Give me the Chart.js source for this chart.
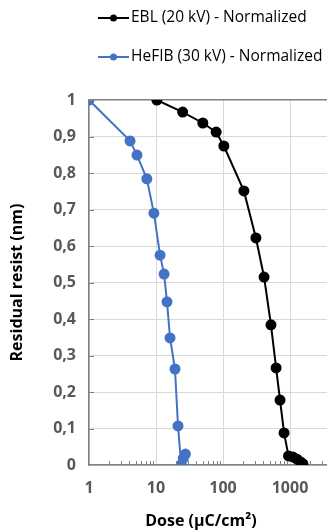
<!DOCTYPE html>
<html>
<head>
<meta charset="utf-8">
<script src="https://cdn.jsdelivr.net/npm/chart.js@4.4.1/dist/chart.umd.min.js"></script>
<style>
  html, body { margin: 0; padding: 0; background: #fff; overflow: hidden; }
  #wrap { width: 402px; height: 531px; }
  canvas { display: block; }
</style>
</head>
<body>
<div id="wrap"><canvas id="doseChart" width="402" height="531"></canvas></div>
<script>
// values
const eblDose = [10.3, 25, 50, 79, 103, 205, 310, 410, 520, 620, 710, 815, 950, 1100, 1270, 1450, 1560];
const eblResist = [1, 0.967, 0.937, 0.912, 0.874, 0.751, 0.622, 0.515, 0.384, 0.266, 0.178, 0.088, 0.025, 0.022, 0.016, 0.008, 0.003];
const hefibDose = [1, 4.1, 5.2, 7.3, 9.3, 11.5, 13.2, 14.6, 16.2, 19.2, 21.3, 23.8, 25.5, 27.5];
const hefibResist = [1, 0.888, 0.849, 0.784, 0.69, 0.575, 0.523, 0.447, 0.348, 0.263, 0.107, 0, 0.018, 0.03];
const xMajorTicks = [1, 10, 100, 1000, 10000];
const seriesLabels = ["EBL (20 kV) - Normalized", "HeFIB (30 kV) - Normalized"];
const seriesColors = ["#000000", "#4472C4"];

const toPoints = (xs, ys) => xs.map((x, i) => ({ x: x, y: ys[i] }));

// legend, x caption and the small inside tick marks
const extras = {
  id: "extras",
  afterDraw(chart) {
    const ctx = chart.ctx;
    const xs = chart.scales.x;
    const ys = chart.scales.y;
    const area = chart.chartArea;
    ctx.save();

    // minor ticks on the log axis
    ctx.strokeStyle = "#808080";
    ctx.lineWidth = 1;
    ctx.beginPath();
    for (let d = 1; d < 10000; d *= 10) {
      for (let m = 2; m <= 9; m++) {
        const px = Math.round(xs.getPixelForValue(d * m)) + 0.5;
        ctx.moveTo(px, area.bottom);
        ctx.lineTo(px, area.bottom - 4);
      }
    }
    // small ticks on the y axis
    for (let v = 0.1; v < 1; v += 0.1) {
      const py = Math.round(ys.getPixelForValue(v)) + 0.5;
      ctx.moveTo(area.left, py);
      ctx.lineTo(area.left + 5, py);
    }
    ctx.stroke();

    // legend
    ctx.font = "15.5px 'Open Sans'";
    ctx.textBaseline = "middle";
    const rows = [18, 57];
    seriesLabels.forEach((label, i) => {
      const y = rows[i];
      ctx.strokeStyle = seriesColors[i];
      ctx.fillStyle = seriesColors[i];
      ctx.lineWidth = 2;
      ctx.beginPath();
      ctx.moveTo(98, y);
      ctx.lineTo(129, y);
      ctx.stroke();
      ctx.beginPath();
      ctx.arc(113.5, y, 3.5, 0, Math.PI * 2);
      ctx.fill();
      ctx.fillStyle = "#000";
      ctx.textAlign = "left";
      ctx.fillText(label, 131, y);
    });

    // x caption
    ctx.font = "bold 16px 'Open Sans'";
    ctx.textAlign = "center";
    ctx.fillStyle = "#000";
    ctx.fillText("Dose (\u00b5C/cm\u00b2)", 201, 521);
    ctx.restore();
  },
};

new Chart(document.getElementById("doseChart"), {
  type: "scatter",
  data: {
    datasets: [
      {
        label: seriesLabels[0],
        data: toPoints(eblDose, eblResist),
        showLine: true,
        borderColor: seriesColors[0],
        backgroundColor: seriesColors[0],
        borderWidth: 2,
        pointRadius: 4.5,
        pointHoverRadius: 4.5,
      },
      {
        label: seriesLabels[1],
        data: toPoints(hefibDose, hefibResist),
        showLine: true,
        borderColor: seriesColors[1],
        backgroundColor: seriesColors[1],
        borderWidth: 2,
        pointRadius: 4.5,
        pointHoverRadius: 4.5,
      },
    ],
  },
  options: {
    responsive: false,
    animation: false,
    layout: { padding: { top: 100, right: 45, left: 0, bottom: 26 } },
    plugins: {
      legend: { display: false },
      tooltip: { enabled: false },
    },
    scales: {
      x: {
        type: "logarithmic",
        min: 1,
        max: 10000,
        afterBuildTicks: (scale) => {
          scale.ticks = xMajorTicks.map((v) => ({ value: v }));
        },
        afterFit: (scale) => {
          scale.height = 40;
        },
        grid: { color: "#d9d9d9", drawTicks: false },
        border: { color: "#808080", width: 1.5 },
        ticks: {
          padding: 14,
          color: "#595959",
          font: { family: "'Open Sans'", size: 16, weight: "bold" },
          callback: (v) => String(v),
          maxRotation: 0,
        },
      },
      y: {
        min: 0,
        max: 1,
        afterFit: (scale) => {
          scale.width = 89;
        },
        grid: {
          color: (c) => (c.tick && c.tick.value === 1 ? "#808080" : "#d9d9d9"),
          lineWidth: (c) => (c.tick && c.tick.value === 1 ? 1.5 : 1),
          drawTicks: false,
        },
        border: { color: "#808080", width: 1.5 },
        ticks: {
          stepSize: 0.1,
          padding: 13,
          color: "#595959",
          font: { family: "'Open Sans'", size: 16, weight: "bold" },
          callback: (v) => {
            const r = Math.round(v * 10) / 10;
            return r === 0 || r === 1 ? String(r) : r.toFixed(1).replace(".", ",");
          },
        },
        title: {
          display: true,
          text: "Residual resist (nm)",
          color: "#000",
          font: { family: "'Open Sans'", size: 16, weight: "bold" },
          padding: { top: 8, bottom: 0 },
        },
      },
    },
  },
  plugins: [extras],
});
</script>
</body>
</html>
